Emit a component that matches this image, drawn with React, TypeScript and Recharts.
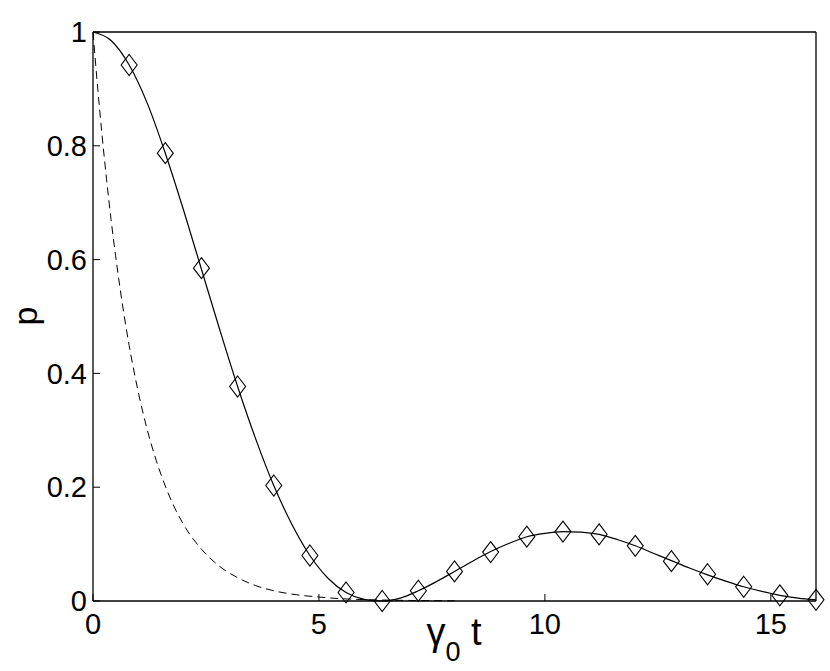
import { LineChart, Line, XAxis, YAxis, Label } from "recharts";

// solid curve, every 0.4
const T_FINE = [
  0, 0.4, 0.8, 1.2, 1.6, 2.0, 2.4, 2.8, 3.2, 3.6, 4.0, 4.4, 4.8, 5.2, 5.6, 6.0, 6.4, 6.8, 7.2, 7.6, 8.0,
  8.4, 8.8, 9.2, 9.6, 10.0, 10.4, 10.8, 11.2, 11.6, 12.0, 12.4, 12.8, 13.2, 13.6, 14.0, 14.4, 14.8, 15.2,
  15.6, 16.0,
];
const P_FINE = [
  1.0, 0.985, 0.942, 0.875, 0.787, 0.688, 0.583, 0.478, 0.377, 0.285, 0.203, 0.135, 0.08, 0.04, 0.015,
  0.003, 0.0, 0.005, 0.018, 0.034, 0.052, 0.07, 0.087, 0.101, 0.113, 0.119, 0.122, 0.121, 0.117, 0.108,
  0.097, 0.084, 0.071, 0.058, 0.046, 0.035, 0.025, 0.017, 0.01, 0.005, 0.002,
];

// diamond markers
const T_MARK = [0.8, 1.6, 2.4, 3.2, 4.0, 4.8, 5.6, 6.4, 7.2, 8.0, 8.8, 9.6, 10.4, 11.2, 12.0, 12.8, 13.6, 14.4, 15.2, 16.0];
const P_MARK = [
  0.942, 0.787, 0.585, 0.377, 0.203, 0.08, 0.015, 0.0, 0.018, 0.052, 0.086, 0.113, 0.122, 0.117, 0.097,
  0.07, 0.047, 0.025, 0.01, 0.002,
];

// dashed curve
const T_DASH = [0, 0.1, 0.2, 0.3, 0.4, 0.5, 0.6, 0.8, 1.0, 1.2, 1.4, 1.6, 1.8, 2.0, 2.4, 2.8, 3.2, 3.6, 4.0, 4.5, 5.0, 5.5, 6.0, 7.0, 8.0];
const P_DASH = [
  1.0, 0.905, 0.819, 0.741, 0.67, 0.607, 0.549, 0.449, 0.368, 0.301, 0.247, 0.202, 0.165, 0.135, 0.091,
  0.061, 0.041, 0.027, 0.018, 0.011, 0.007, 0.004, 0.0025, 0.001, 0.0003,
];

const X_TICKS = [0, 5, 10, 15];
const Y_TICKS = [0, 0.2, 0.4, 0.6, 0.8, 1];

const FONT = "'Liberation Sans', Arial, Helvetica, sans-serif";

const solid = T_FINE.map((t, i) => ({ t, p: P_FINE[i] }));
const marks = T_MARK.map((t, i) => ({ t, p: P_MARK[i] }));
const dashed = T_DASH.map((t, i) => ({ t, p: P_DASH[i] }));

function Diamond(props: any) {
  const { cx, cy } = props;
  if (cx == null || cy == null) return null;
  return (
    <path
      d={`M${cx},${cy - 10.5} L${cx + 8},${cy} L${cx},${cy + 10.5} L${cx - 8},${cy} Z`}
      fill="none"
      stroke="#000"
      strokeWidth={1.1}
    />
  );
}

function XLabel() {
  return (
    <text x={454} y={645} textAnchor="middle" fontFamily={FONT} fontSize={38} fill="#000">
      <tspan>γ</tspan>
      <tspan dy={16} fontSize={27}>0</tspan>
      <tspan dy={-16}> t</tspan>
    </text>
  );
}

function YLabel() {
  return (
    <text
      x={25}
      y={316}
      transform="rotate(-90 25 316)"
      textAnchor="middle"
      dominantBaseline="central"
      fontFamily={FONT}
      fontSize={34}
      fill="#000"
    >
      p
    </text>
  );
}

const axisStroke = { stroke: "#000", strokeWidth: 1.3 };
const tickStyle = { fill: "#000", fontSize: 29, fontFamily: FONT };

export default function App() {
  return (
    <div style={{ position: "absolute", left: 0, top: 0, background: "#fff" }}>
      <LineChart width={830} height={671} margin={{ top: 31, right: 13, bottom: 30, left: 33 }}>
        <XAxis
          xAxisId="b"
          type="number"
          dataKey="t"
          domain={[0, 16]}
          ticks={X_TICKS}
          height={40}
          tickSize={-7}
          tickMargin={19}
          axisLine={axisStroke}
          tickLine={{ stroke: "#000" }}
          tick={tickStyle}
        >
          <Label content={XLabel} />
        </XAxis>
        <XAxis
          xAxisId="top"
          orientation="top"
          type="number"
          dataKey="t"
          domain={[0, 16]}
          ticks={X_TICKS}
          height={1}
          tickSize={-7}
          axisLine={axisStroke}
          tickLine={{ stroke: "#000" }}
          tick={false}
        />
        <YAxis
          yAxisId="l"
          type="number"
          domain={[0, 1]}
          ticks={Y_TICKS}
          width={60}
          tickSize={-7}
          tickMargin={13}
          axisLine={axisStroke}
          tickLine={{ stroke: "#000" }}
          tick={tickStyle}
        >
          <Label content={YLabel} />
        </YAxis>
        <YAxis
          yAxisId="r"
          orientation="right"
          type="number"
          domain={[0, 1]}
          ticks={Y_TICKS}
          width={1}
          tickSize={-7}
          axisLine={axisStroke}
          tickLine={{ stroke: "#000" }}
          tick={false}
        />
        <Line
          xAxisId="b"
          yAxisId="l"
          data={dashed}
          dataKey="p"
          type="monotone"
          stroke="#000"
          strokeWidth={1}
          strokeDasharray="8 5"
          dot={false}
          isAnimationActive={false}
        />
        <Line
          xAxisId="b"
          yAxisId="l"
          data={solid}
          dataKey="p"
          type="monotone"
          stroke="#000"
          strokeWidth={1.2}
          dot={false}
          isAnimationActive={false}
        />
        <Line
          xAxisId="top"
          yAxisId="r"
          data={marks}
          dataKey="p"
          stroke="none"
          dot={<Diamond />}
          activeDot={false}
          isAnimationActive={false}
        />
      </LineChart>
    </div>
  );
}
